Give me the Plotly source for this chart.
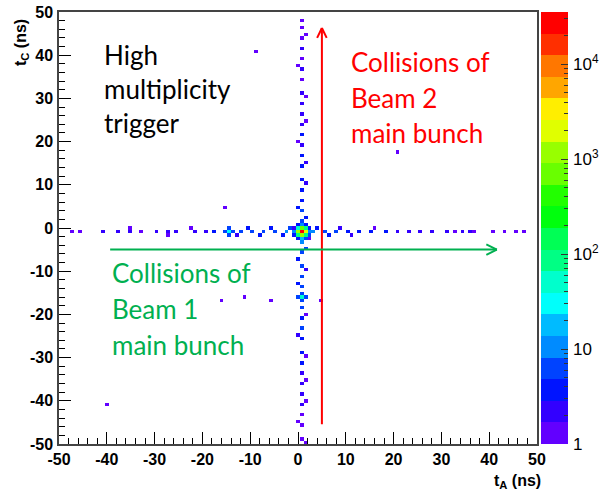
import colorsys
import numpy as np
import plotly.graph_objects as go

# ---------------- data ----------------
BIN_W = 0.8  # ns
EDGES = np.arange(-50, 50 + 1e-9, BIN_W)

# horizontal band of satellite collisions (t_C ~ -1 ns)
row_t_a = [-47.5, -45.5, -40.5, -37.5, -35.5, -33, -30, -27.5, -25.5, -22, -19.5, -17.5,
           -14.5, -12, -10, -7.5, -5, -2.5, 3, 5.5, 8, 10.5, 13, 15.5, 18, 20.5, 23,
           25.5, 28, 31, 32.5, 34, 36, 37, 41, 43.5, 45.5, 47]
row_t_c = [-1] * len(row_t_a)
row_counts = [1, 1, 2, 2, 2, 1, 2, 2, 2, 2, 2, 3,
              35, 5, 5, 6, 7, 9, 9, 6, 5, 4, 3, 3, 3, 2, 2,
              2, 2, 2, 1, 2, 2, 1, 1, 1, 1, 1]

# companions just above / below the horizontal band
row2_t_a = [-35, -27, -22.5, -15.3, -13.7, -14.5, -14.5, -12.8, -10.8, -8, -5.8, -3.2, -1.7, 2, 3.8, 6.3, 9, 11.5, 16]
row2_t_c = [-0.2, -1.8, -0.2, -1, -1, -0.2, -1.8, -1.8, -0.2, -1.8, -0.2, -1.8, -0.2, -1.8, -0.2, -1.8, -0.2, -1.8, -0.2]
row2_counts = [1, 1, 1, 8, 8, 6, 5, 2, 3, 3, 4, 4, 6, 5, 4, 3, 2, 2, 1]

# vertical band of satellite collisions (t_A ~ 0.5 ns)
col_t_c = [48, 46.5, 44, 41.5, 39, 36.5, 34, 31.5, 29, 26.5, 24, 21.5, 19, 16.5, 14, 11.5,
           9, 6.5, 4, 1.5, -3.5, -6, -8.5, -11, -13.5, -16, -18.5, -21, -23.5, -26,
           -28.5, -31, -33.5, -36, -38.5, -41, -43.5, -46, -48.5]
col_t_a = [0.5] * len(col_t_c)
col_counts = [1, 1, 1, 2, 1, 2, 1, 2, 2, 2, 2, 3, 2, 3, 3, 3,
              4, 4, 5, 8, 10, 7, 5, 5, 6, 40, 6, 4, 7, 4,
              3, 3, 2, 2, 2, 2, 1, 1, 1]

# companions left / right of the vertical band
col2_t_c = [45, 37.5, 30, 25, 20, 15, 10, 5, 2.5, -4.5, -7, -10, -12.5, -15.2, -16.8, -16, -16,
            -20, -25, -30, -35, -40, -45, -49.5]
col2_t_a = [1.3, -0.3, 1.3, 1.3, -0.3, 1.3, 1.3, -0.3, 1.3, 1.3, -0.3, 1.3, -0.3, 0.5, 0.5, -0.3, 1.3,
            1.3, -0.3, 1.3, 1.3, 1.3, -0.3, 1.3]
col2_counts = [1, 1, 1, 1, 1, 2, 2, 3, 4, 5, 3, 2, 3, 8, 7, 6, 5,
               1, 2, 1, 1, 1, 1, 1]

# main-bunch collision peak (5x5 bins around t_A=0.5, t_C=-1; rows: t_C high -> low)
peak_t_a = 0.5
peak_t_c = -1.0
peak_counts = [[0, 3, 12, 3, 0],
               [2, 60, 900, 80, 3],
               [10, 1500, 30000, 1800, 12],
               [3, 90, 1200, 100, 2],
               [0, 4, 15, 5, 1]]

# isolated entries
iso_t_a = [-9, -15, 21, -40, -16, -5.5, -11, 4.5]
iso_t_c = [41, 4.5, 17.5, -41, -16.5, -16.5, -16, -17]
iso_counts = [1, 1, 1, 1, 1, 1, 1, 1]

# colour axis
Z_LOG_MAX = 4.55
N_CONTOURS = 20
cbar_tickvals = [1, 10, 100, 1000, 10000]
cbar_ticktext = ["1", "10", "10<sup>2</sup>", "10<sup>3</sup>", "10<sup>4</sup>"]
axis_ticks = [-50, -40, -30, -20, -10, 0, 10, 20, 30, 40, 50]

# ---------------- build histogram ----------------
xs, ys, ws = [], [], []
for a, c, n in [(row_t_a, row_t_c, row_counts), (row2_t_a, row2_t_c, row2_counts),
                (col_t_a, col_t_c, col_counts), (col2_t_a, col2_t_c, col2_counts),
                (iso_t_a, iso_t_c, iso_counts)]:
    xs += list(a); ys += list(c); ws += list(n)
for i, rowv in enumerate(peak_counts):
    for j, n in enumerate(rowv):
        if n > 0:
            xs.append(peak_t_a + (j - 2) * BIN_W)
            ys.append(peak_t_c + (2 - i) * BIN_W)
            ws.append(n)

H, _, _ = np.histogram2d(xs, ys, bins=[EDGES, EDGES], weights=ws)
H = H.T
Z = np.where(H >= 1, np.log10(np.maximum(H, 1e-9)), np.nan)
centers = 0.5 * (EDGES[:-1] + EDGES[1:])

# ROOT "pretty palette" with 20 contour levels
cols = []
for k in range(N_CONTOURS):
    j = int((k + 0.99) * 50 / N_CONTOURS)
    hue = 280 - (j + 1) * (280 / 50)
    r, g, b = colorsys.hls_to_rgb(hue / 360, 0.5, 1.0)
    cols.append(f"rgb({int(r*255)},{int(g*255)},{int(b*255)})")
cscale = []
for k, c in enumerate(cols):
    cscale.append([k / N_CONTOURS, c])
    cscale.append([(k + 1) / N_CONTOURS, c])

fig = go.Figure()
fig.add_trace(go.Heatmap(x=centers, y=centers, z=Z, zmin=0, zmax=Z_LOG_MAX,
                         colorscale=cscale, showscale=False, hoverinfo="skip",
                         xaxis="x", yaxis="y"))

# colour bar as its own heatmap
band_edges = [10 ** (Z_LOG_MAX * k / N_CONTOURS) for k in range(N_CONTOURS + 1)]
band_vals = [[Z_LOG_MAX * (k + 0.5) / N_CONTOURS] for k in range(N_CONTOURS)]
fig.add_trace(go.Heatmap(x=[0, 1], y=band_edges, z=band_vals, zmin=0, zmax=Z_LOG_MAX,
                         colorscale=cscale, showscale=False, hoverinfo="skip",
                         xaxis="x3", yaxis="y3"))

W, Hh = 599, 493
PL, PR, PT, PB = 59, 537, 12, 444
def px(x):
    return x / W
def py(y):
    return 1 - y / Hh

tickfont = dict(family="Liberation Sans", size=16, color="black", weight="bold")
common = dict(range=[-50, 50], tickmode="array", tickvals=axis_ticks,
              ticktext=[str(t) for t in axis_ticks], ticks="inside",
              tickcolor="black", tickwidth=1, showgrid=False, zeroline=False,
              showline=True, linecolor="#444", linewidth=1.5, mirror=True,
              tickfont=tickfont, automargin=False,
              minor=dict(dtick=2, ticks="inside", ticklen=6, tickcolor="black", showgrid=False))

fig.update_layout(
    width=W, height=Hh, margin=dict(l=0, r=0, t=0, b=0, pad=0),
    paper_bgcolor="white", plot_bgcolor="white", showlegend=False,
    xaxis=dict(domain=[px(PL), px(PR)], anchor="y", ticklen=12, ticklabelstandoff=0, **common),
    yaxis=dict(domain=[py(PB), py(PT)], anchor="x", ticklen=12, ticklabelstandoff=1, **common),
    xaxis3=dict(domain=[px(541), px(568)], anchor="y3", range=[0, 1], automargin=False,
                showticklabels=False, ticks="", showgrid=False, zeroline=False, showline=False),
    yaxis3=dict(domain=[py(PB), py(PT)], anchor="x3", type="log", range=[0, Z_LOG_MAX],
                side="right", tickmode="array", tickvals=cbar_tickvals, ticktext=cbar_ticktext,
                ticks="inside", ticklen=7, tickcolor="#333", showgrid=False, zeroline=False,
                showline=False, automargin=False, ticklabelstandoff=4,
                tickfont=dict(family="Liberation Sans", size=17, color="black"),
                minor=dict(tickvals=[2, 3, 4, 5, 6, 7, 8, 9, 20, 30, 40, 50, 60, 70, 80, 90,
                                     200, 300, 400, 500, 600, 700, 800, 900,
                                     2000, 3000, 4000, 5000, 6000, 7000, 8000, 9000,
                                     20000, 30000],
                           ticks="inside", ticklen=4, tickcolor="#333")),
)

# axis titles
fig.add_annotation(text="t<sub>A</sub> (ns)", xref="paper", yref="paper",
                   xanchor="center", yanchor="middle", x=px(517), y=py(481),
                   showarrow=False, font=dict(family="Liberation Sans", size=16, color="black", weight="bold"))
fig.add_annotation(text="t<sub>C</sub> (ns)", xref="paper", yref="paper", textangle=-90,
                   xanchor="center", yanchor="middle", x=px(22), y=py(43),
                   showarrow=False, font=dict(family="Liberation Sans", size=16, color="black", weight="bold"))

# text labels
def label_lines(lines, x_px, y_px_list, color):
    for t, ypx in zip(lines, y_px_list):
        fig.add_annotation(text=t, xref="paper", yref="paper", xanchor="left", yanchor="middle",
                           x=px(x_px), y=py(ypx), showarrow=False,
                           font=dict(family="Lato", size=26, color=color))

label_lines(["High", "multiplicity", "trigger"], 102, [55, 89, 123], "black")
label_lines(["Collisions of", "Beam 2", "main bunch"], 349, [62, 98, 133], "#ff0000")
label_lines(["Collisions of", "Beam 1", "main bunch"], 110, [273, 309, 345], "#00b050")

# arrows (data coordinates)
red_x, red_y0, red_y1 = 5, -45.4, 46.3
grn_y, grn_x0, grn_x1 = -5, -39.3, 41.6
fig.add_shape(type="line", x0=red_x, x1=red_x, y0=red_y0, y1=red_y1, line=dict(color="#ff0000", width=2))
fig.add_shape(type="line", x0=red_x - 1.0, x1=red_x, y0=red_y1 - 2.3, y1=red_y1, line=dict(color="#ff0000", width=2))
fig.add_shape(type="line", x0=red_x + 1.0, x1=red_x, y0=red_y1 - 2.3, y1=red_y1, line=dict(color="#ff0000", width=2))
fig.add_shape(type="line", x0=grn_x0, x1=grn_x1, y0=grn_y, y1=grn_y, line=dict(color="#00b050", width=2))
fig.add_shape(type="line", x0=grn_x1 - 2.2, x1=grn_x1, y0=grn_y + 1.2, y1=grn_y, line=dict(color="#00b050", width=2))
fig.add_shape(type="line", x0=grn_x1 - 2.2, x1=grn_x1, y0=grn_y - 1.2, y1=grn_y, line=dict(color="#00b050", width=2))

fig.write_html("out.html")
